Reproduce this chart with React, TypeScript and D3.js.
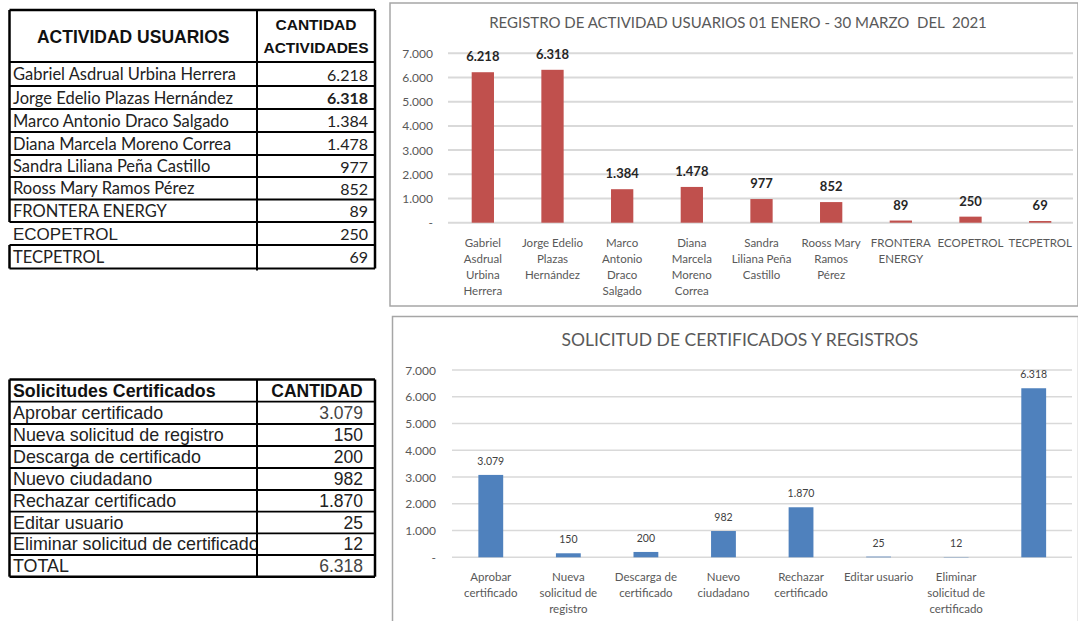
import React from "react";
import * as d3 from "d3";

const userNames = [
  "Gabriel Asdrual Urbina Herrera",
  "Jorge Edelio Plazas Hernández",
  "Marco Antonio Draco Salgado",
  "Diana Marcela Moreno Correa",
  "Sandra Liliana Peña Castillo",
  "Rooss Mary Ramos Pérez",
  "FRONTERA ENERGY",
  "ECOPETROL",
  "TECPETROL",
];
const userActivity = [6218, 6318, 1384, 1478, 977, 852, 89, 250, 69];
const userAxisLabels = [
  ["Gabriel", "Asdrual", "Urbina", "Herrera"],
  ["Jorge Edelio", "Plazas", "Hernández"],
  ["Marco", "Antonio", "Draco", "Salgado"],
  ["Diana", "Marcela", "Moreno", "Correa"],
  ["Sandra", "Liliana Peña", "Castillo"],
  ["Rooss Mary", "Ramos", "Pérez"],
  ["FRONTERA", "ENERGY"],
  ["ECOPETROL"],
  ["TECPETROL"],
];
const userTableHeader = ["ACTIVIDAD USUARIOS", "CANTIDAD", "ACTIVIDADES"];
const userChartTitle = "REGISTRO DE ACTIVIDAD USUARIOS 01 ENERO - 30 MARZO  DEL  2021";

const requestNames = [
  "Aprobar certificado",
  "Nueva solicitud de registro",
  "Descarga de certificado",
  "Nuevo ciudadano",
  "Rechazar certificado",
  "Editar usuario",
  "Eliminar solicitud de certificado",
];
const requestCounts = [3079, 150, 200, 982, 1870, 25, 12];
const requestTotalLabel = "TOTAL";
const requestTotal = 6318;
const requestAxisLabels = [
  ["Aprobar", "certificado"],
  ["Nueva", "solicitud de", "registro"],
  ["Descarga de", "certificado"],
  ["Nuevo", "ciudadano"],
  ["Rechazar", "certificado"],
  ["Editar usuario"],
  ["Eliminar", "solicitud de", "certificado"],
  [],
];
const requestTableHeader = ["Solicitudes Certificados", "CANTIDAD"];
const requestChartTitle = "SOLICITUD DE CERTIFICADOS Y REGISTROS";

const yTicks = [0, 1000, 2000, 3000, 4000, 5000, 6000, 7000];

const locale = d3.formatLocale({ decimal: ",", thousands: ".", grouping: [3], currency: ["", ""] });
const fmt = locale.format(",d");
const tickFmt = (v: number) => (v === 0 ? "-" : fmt(v));

const CAL = "Lato, 'Open Sans', sans-serif";
const ARIAL = "'Liberation Sans', Arial, sans-serif";

type ChartProps = {
  frame: { x: number; y: number; w: number; h: number };
  title: string;
  titleX: number;
  titleY: number;
  titleSize: number;
  xRange: [number, number];
  yRange: [number, number];
  values: number[];
  labels: string[][];
  color: string;
  valueBold: boolean;
  valueSize: number;
  valueColor: string;
  valueOffset: number;
  labelY: number;
  tickX: number;
  gridEnd: number;
  gridWidth: number;
};

function BarChart(p: ChartProps) {
  const idx = p.values.map((_, i) => String(i));
  const x = d3.scaleBand<string>().domain(idx).range(p.xRange).paddingInner(0.68).paddingOuter(0.34);
  const y = d3.scaleLinear().domain([0, 7000]).range(p.yRange);
  return (
    <g>
      <rect x={p.frame.x} y={p.frame.y} width={p.frame.w} height={p.frame.h} fill="#fff" stroke="#a6a6a6" strokeWidth={1.5} />
      <text x={p.titleX} y={p.titleY} textAnchor="middle" dominantBaseline="central" fontFamily={CAL} fontSize={p.titleSize} fill="#595959" style={{ whiteSpace: "pre" }}>
        {p.title}
      </text>
      {yTicks.map((t) => (
        <g key={t}>
          <line x1={p.xRange[0]} x2={p.gridEnd} y1={y(t)} y2={y(t)} stroke="#d9d9d9" strokeWidth={p.gridWidth} />
          <text x={p.tickX} y={y(t)} textAnchor="end" dominantBaseline="central" fontFamily={CAL} fontSize={12} fill="#595959">
            {tickFmt(t)}
          </text>
        </g>
      ))}
      {p.values.map((v, i) => {
        const bx = x(String(i))!;
        const cx = bx + x.bandwidth() / 2;
        return (
          <g key={i}>
            <rect x={bx} y={y(v)} width={x.bandwidth()} height={y(0) - y(v)} fill={p.color} />
            <text x={cx} y={y(v) - p.valueOffset} textAnchor="middle" dominantBaseline="central" fontFamily={CAL} fontSize={p.valueSize} fontWeight={p.valueBold ? 700 : 400} fill={p.valueColor}>
              {fmt(v)}
            </text>
            {p.labels[i].map((ln, j) => (
              <text key={j} x={cx} y={p.labelY + j * 16} textAnchor="middle" dominantBaseline="central" fontFamily={CAL} fontSize={11.5} fill="#595959">
                {ln}
              </text>
            ))}
          </g>
        );
      })}
    </g>
  );
}

function UserTable() {
  const rowLines = [62, 86, 109, 132, 155, 177, 199.5, 222, 245, 268.5];
  const left = 9.5, mid = 257, right = 375, top = 10;
  return (
    <g>
      <text x={(left + mid) / 2 + 0} y={37} textAnchor="middle" dominantBaseline="central" fontFamily={ARIAL} fontWeight={700} fontSize={17.5} fill="#111">
        {userTableHeader[0]}
      </text>
      <text x={(mid + right) / 2} y={24} textAnchor="middle" dominantBaseline="central" fontFamily={ARIAL} fontWeight={700} fontSize={15.5} fill="#111">
        {userTableHeader[1]}
      </text>
      <text x={(mid + right) / 2} y={47} textAnchor="middle" dominantBaseline="central" fontFamily={ARIAL} fontWeight={700} fontSize={15.5} fill="#111">
        {userTableHeader[2]}
      </text>
      {userNames.map((n, i) => {
        const cy = (rowLines[i] + rowLines[i + 1]) / 2;
        const eco = n === "ECOPETROL";
        return (
          <g key={n}>
            <text x={13} y={cy + (eco ? 1 : 0)} dominantBaseline="central" fontFamily={eco ? ARIAL : CAL} fontSize={eco ? 17 : 16.5} fill="#222">
              {n}
            </text>
            <text x={368} y={cy} textAnchor="end" dominantBaseline="central" fontFamily={CAL} fontSize={16} fontWeight={i === 1 ? 700 : 400} fill="#222">
              {fmt(userActivity[i])}
            </text>
          </g>
        );
      })}
      <line x1={left} x2={right} y1={top} y2={top} stroke="#000" strokeWidth={2.5} />
      {rowLines.map((ly, i) => (
        <line key={i} x1={left} x2={right} y1={ly} y2={ly} stroke="#000" strokeWidth={i === 0 || i === 7 ? 2.2 : 1.8} />
      ))}
      <line x1={left} x2={left} y1={top} y2={rowLines[7]} stroke="#000" strokeWidth={2.5} />
      <line x1={left} x2={left} y1={rowLines[8]} y2={rowLines[9]} stroke="#000" strokeWidth={2.5} />
      <line x1={mid} x2={mid} y1={top} y2={rowLines[9] + 2} stroke="#000" strokeWidth={2} />
      <line x1={right} x2={right} y1={top} y2={rowLines[9]} stroke="#000" strokeWidth={2.5} />
    </g>
  );
}

function RequestTable() {
  const rowLines = [379.5, 401.7, 424, 446, 468, 490, 511.7, 533.3, 555, 576.7];
  const left = 9.5, mid = 257, right = 375;
  const names = [...requestNames, requestTotalLabel];
  const vals = [...requestCounts, requestTotal];
  return (
    <g>
      <defs>
        <clipPath id="col1clip">
          <rect x={left} y={rowLines[0]} width={mid - left} height={rowLines[9] - rowLines[0]} />
        </clipPath>
      </defs>
      <text x={13} y={(rowLines[0] + rowLines[1]) / 2} dominantBaseline="central" fontFamily={ARIAL} fontWeight={700} fontSize={17.8} fill="#111">
        {requestTableHeader[0]}
      </text>
      <text x={(mid + right) / 2 + 1} y={(rowLines[0] + rowLines[1]) / 2} textAnchor="middle" dominantBaseline="central" fontFamily={ARIAL} fontWeight={700} fontSize={17.5} fill="#111">
        {requestTableHeader[1]}
      </text>
      {names.map((n, i) => {
        const cy = (rowLines[i + 1] + rowLines[i + 2]) / 2;
        return (
          <g key={n}>
            <text x={13} y={cy} dominantBaseline="central" fontFamily={ARIAL} fontSize={17.9} fill="#222" clipPath="url(#col1clip)">
              {n}
            </text>
            <text x={363} y={cy} textAnchor="end" dominantBaseline="central" fontFamily={ARIAL} fontSize={17.5} fill={i === 0 || i === 7 ? "#444" : "#222"}>
              {fmt(vals[i])}
            </text>
          </g>
        );
      })}
      {rowLines.map((ly, i) => (
        <line key={i} x1={left} x2={right} y1={ly} y2={ly} stroke="#000" strokeWidth={i === 0 || i === 9 ? 2.5 : 1.8} />
      ))}
      <line x1={left} x2={left} y1={rowLines[0]} y2={rowLines[9]} stroke="#000" strokeWidth={2.5} />
      <line x1={mid} x2={mid} y1={rowLines[0]} y2={rowLines[9]} stroke="#000" strokeWidth={2} />
      <line x1={right} x2={right} y1={rowLines[0]} y2={rowLines[9]} stroke="#000" strokeWidth={2.5} />
    </g>
  );
}

export default function App() {
  return (
    <div style={{ position: "absolute", left: 0, top: 0, width: 1078, height: 621, background: "#fff" }}>
      <svg width={1078} height={621} viewBox="0 0 1078 621" style={{ display: "block" }}>
        <rect x={0} y={0} width={1078} height={621} fill="#fff" />
        <UserTable />
        <RequestTable />
        <BarChart
          frame={{ x: 390, y: 3, w: 688, h: 303 }}
          title={userChartTitle}
          titleX={738}
          titleY={22}
          titleSize={15}
          xRange={[448, 1075]}
          yRange={[222.7, 53.3]}
          values={userActivity}
          labels={userAxisLabels}
          color="#c0504d"
          valueBold={true}
          valueSize={13}
          valueColor="#262626"
          valueOffset={16}
          labelY={242}
          tickX={433}
          gridEnd={1073}
          gridWidth={2}
        />
        <BarChart
          frame={{ x: 392.5, y: 316.5, w: 686, h: 320 }}
          title={requestChartTitle}
          titleX={740}
          titleY={339}
          titleSize={17.5}
          xRange={[452, 1072.5]}
          yRange={[557.3, 370]}
          values={[...requestCounts, requestTotal]}
          labels={requestAxisLabels}
          color="#4f81bd"
          valueBold={false}
          valueSize={10.5}
          valueColor="#404040"
          valueOffset={14}
          labelY={576}
          tickX={436}
          gridEnd={1072}
          gridWidth={1.5}
        />
      </svg>
    </div>
  );
}
